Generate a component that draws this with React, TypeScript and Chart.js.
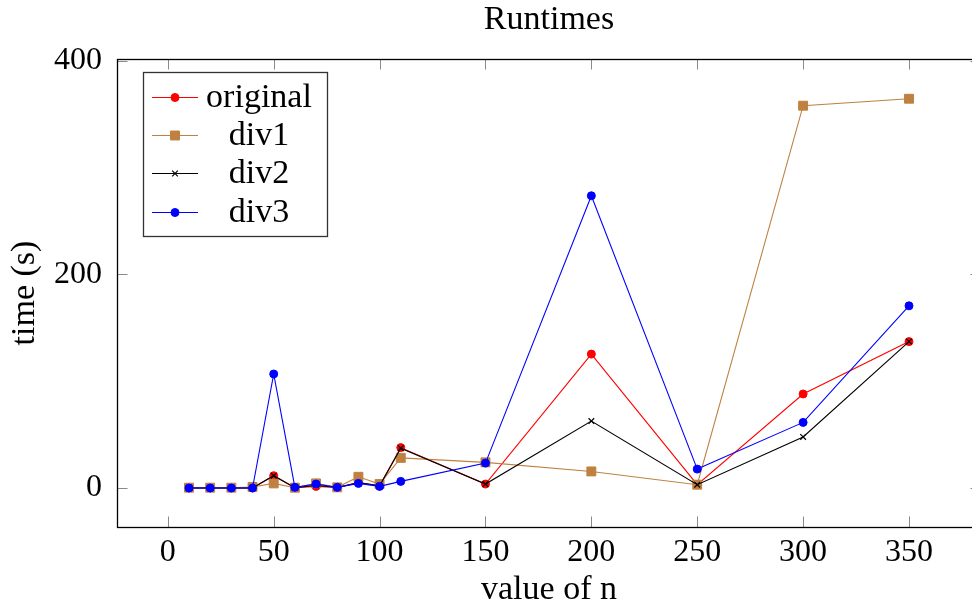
import React, { useEffect, useRef } from "react";
import { Chart, registerables } from "chart.js";

Chart.register(...registerables);

const nValues = [10, 20, 30, 40, 50, 60, 70, 80, 90, 100, 110, 150, 200, 250, 300, 350];
const original = [0, 0, 0, 0, 11.5, 0.3, 1.5, 0.5, 5, 2, 37.8, 3.7, 125.3, 3.1, 88, 137];
const div1 = [0.3, 0.3, 0.3, 1, 4.3, 0.3, 4.3, 0.6, 10.5, 3.7, 28.2, 24, 15.5, 3.1, 357.8, 364.3];
const div2 = [0, 0, 0, 0, 11.5, 0.3, 2.5, 0.5, 5, 2, 37.3, 3.7, 62.6, 3.1, 47.8, 137];
const div3 = [0, 0, 0, 0, 106.7, 0.6, 3.7, 0.6, 4.3, 1.5, 6.2, 23.3, 273.5, 17.7, 61.4, 170.5];
const seriesNames = ["original", "div1", "div2", "div3"];
const seriesColors = ["#FF0000", "#BF8040", "#000000", "#0000FF"];
const xTicks = [0, 50, 100, 150, 200, 250, 300, 350];
const yTicks = [0, 200, 400];
const chartTitle = "Runtimes";

const FONT = "'Liberation Serif', 'DejaVu Serif', serif";
const TICK_FS = 32;
const LABEL_FS = 34;

function drawMarker(ctx: CanvasRenderingContext2D, ds: any, x: number, y: number) {
  const style = ds.pointStyle;
  const r = ds.pointRadius;
  ctx.save();
  ctx.fillStyle = ds.pointBackgroundColor;
  ctx.strokeStyle = ds.pointBorderColor;
  ctx.lineWidth = ds.pointBorderWidth;
  ctx.beginPath();
  if (style === "circle") {
    ctx.arc(x, y, r, 0, Math.PI * 2);
    ctx.fill();
    ctx.stroke();
  } else if (style === "rect") {
    const s = Math.SQRT1_2 * r;
    ctx.rect(x - s, y - s, 2 * s, 2 * s);
    ctx.fill();
    ctx.stroke();
  } else {
    const s = Math.SQRT1_2 * r;
    ctx.moveTo(x - s, y - s);
    ctx.lineTo(x + s, y + s);
    ctx.moveTo(x - s, y + s);
    ctx.lineTo(x + s, y - s);
    ctx.stroke();
  }
  ctx.restore();
}

const frameAndLegend = {
  id: "frameAndLegend",
  afterDatasetsDraw(chart: any) {
    const { ctx, chartArea } = chart;
    const { left, right, top, bottom } = chartArea;
    const xs = chart.scales.x;
    const ys = chart.scales.y;
    ctx.save();
    ctx.strokeStyle = "#8a8a8a";
    ctx.lineWidth = 1;
    const tl = 10.5;
    xTicks.forEach((v) => {
      const px = Math.round(xs.getPixelForValue(v)) + 0.5;
      ctx.beginPath();
      ctx.moveTo(px, bottom);
      ctx.lineTo(px, bottom - tl);
      ctx.moveTo(px, top);
      ctx.lineTo(px, top + tl);
      ctx.stroke();
    });
    yTicks.forEach((v) => {
      const py = Math.round(ys.getPixelForValue(v)) + 0.5;
      ctx.beginPath();
      ctx.moveTo(left, py);
      ctx.lineTo(left + tl, py);
      ctx.moveTo(right, py);
      ctx.lineTo(right - tl, py);
      ctx.stroke();
    });
    ctx.strokeStyle = "#000";
    ctx.lineWidth = 1.3;
    ctx.strokeRect(Math.round(left) + 0.5, Math.round(top) + 0.5, Math.round(right - left), Math.round(bottom - top));
    // title centred over the plot area
    ctx.fillStyle = "#000";
    ctx.font = `${LABEL_FS}px ${FONT}`;
    ctx.textAlign = "center";
    ctx.textBaseline = "alphabetic";
    ctx.fillText(chartTitle, (left + right) / 2, 29);
    ctx.restore();
  },
  afterDraw(chart: any) {
    const { ctx } = chart;
    ctx.save();
    const bx = 143.5, by = 72.5, bw = 184, bh = 164;
    ctx.fillStyle = "#fff";
    ctx.fillRect(bx, by, bw, bh);
    ctx.strokeStyle = "#333";
    ctx.lineWidth = 1.3;
    ctx.strokeRect(bx, by, bw, bh);
    const rowY = [97, 135, 173, 212];
    chart.data.datasets.forEach((ds: any, i: number) => {
      const y = rowY[i];
      ctx.strokeStyle = ds.borderColor;
      ctx.lineWidth = 1;
      ctx.beginPath();
      ctx.moveTo(152, y + 0.5);
      ctx.lineTo(198, y + 0.5);
      ctx.stroke();
      drawMarker(ctx, ds, 175, y + 0.5);
      ctx.fillStyle = "#000";
      ctx.font = `${LABEL_FS}px ${FONT}`;
      ctx.textAlign = "center";
      ctx.textBaseline = "middle";
      ctx.fillText(ds.label, 259, y + 1);
    });
    ctx.restore();
  },
};

function makeData(vals: number[]) {
  return nValues.map((n, i) => ({ x: n, y: vals[i] }));
}

export default function App() {
  const ref = useRef<HTMLCanvasElement | null>(null);
  useEffect(() => {
    document.body.style.margin = "0";
    Chart.defaults.color = "#000";
    const seriesValues = [original, div1, div2, div3];
    const styles = [
      { pointStyle: "circle", pointRadius: 4, pointBorderWidth: 1, order: 3 },
      { pointStyle: "rect", pointRadius: 6.3, pointBorderWidth: 1, order: 2 },
      { pointStyle: "crossRot", pointRadius: 4, pointBorderWidth: 1.2, order: 1 },
      { pointStyle: "circle", pointRadius: 4, pointBorderWidth: 1, order: 0 },
    ];
    const datasets = seriesNames.map((name, i) => ({
      label: name,
      data: makeData(seriesValues[i]),
      borderColor: seriesColors[i],
      backgroundColor: seriesColors[i],
      pointBackgroundColor: seriesColors[i],
      pointBorderColor: seriesColors[i],
      borderWidth: 1.1,
      pointHoverRadius: styles[i].pointRadius,
      tension: 0,
      ...styles[i],
    }));
    const chart = new Chart(ref.current as HTMLCanvasElement, {
      type: "line",
      data: { datasets } as any,
      options: {
        animation: false,
        responsive: false,
        devicePixelRatio: 1,
        layout: { padding: { left: 0, right: 19, top: 59, bottom: 0 } },
        plugins: {
          legend: { display: false },
          tooltip: { enabled: false },
          title: { display: false },
        },
        scales: {
          x: {
            type: "linear",
            min: -24,
            max: 384,
            afterBuildTicks: (s: any) => {
              s.ticks = xTicks.map((v) => ({ value: v }));
            },
            afterFit: (s: any) => {
              s.height = 80;
            },
            grid: { display: false, drawTicks: false },
            border: { display: false },
            ticks: {
              color: "#000",
              font: { family: FONT, size: TICK_FS },
              padding: 6,
              maxRotation: 0,
              autoSkip: false,
            },
            title: {
              display: true,
              text: "value of n",
              color: "#000",
              font: { family: FONT, size: LABEL_FS, lineHeight: 1 },
              padding: { top: 0, bottom: 0 },
            },
          },
          y: {
            type: "linear",
            min: -36.5,
            max: 401.5,
            afterBuildTicks: (s: any) => {
              s.ticks = yTicks.map((v) => ({ value: v }));
            },
            afterFit: (s: any) => {
              s.width = 117;
            },
            grid: { display: false, drawTicks: false },
            border: { display: false },
            ticks: {
              color: "#000",
              font: { family: FONT, size: TICK_FS },
              padding: 15,
            },
            title: {
              display: true,
              text: "time (s)",
              color: "#000",
              font: { family: FONT, size: LABEL_FS, lineHeight: 1.2 },
              padding: { top: 4.6, bottom: 0 },
            },
          },
        },
      } as any,
      plugins: [frameAndLegend],
    });
    return () => chart.destroy();
  }, []);
  return (
    <div style={{ position: "absolute", left: 0, top: 0, width: 972, height: 607, overflow: "hidden", background: "#fff" }}>
      <canvas ref={ref} width={1000} height={607} style={{ display: "block" }} />
    </div>
  );
}
